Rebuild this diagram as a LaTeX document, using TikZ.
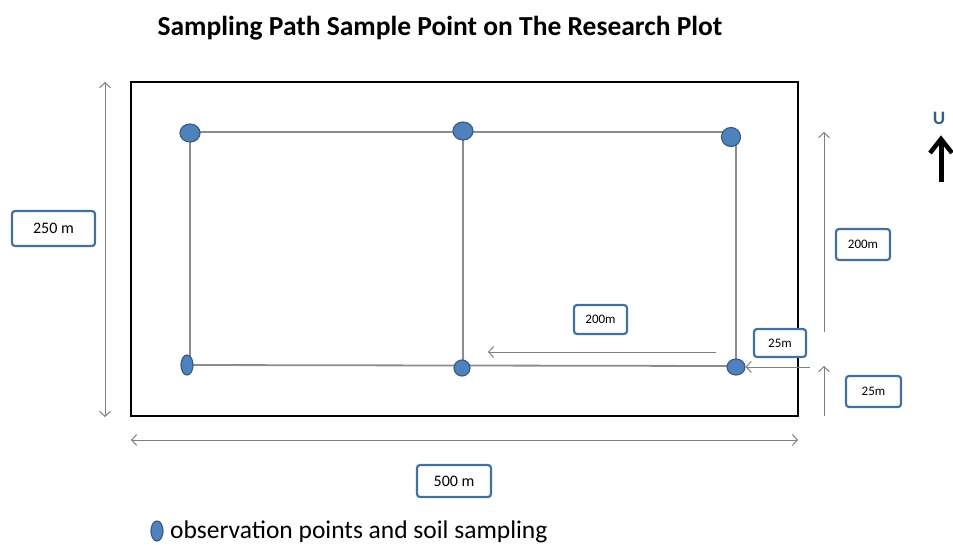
\documentclass[tikz,border=0pt]{standalone}
\usepackage{fontspec}
\setmainfont{Carlito}
\usetikzlibrary{arrows.meta,shapes.geometric}
\definecolor{ptfill}{HTML}{4F81BD}
\definecolor{ptdraw}{HTML}{385D8A}
\definecolor{boxblue}{HTML}{41719C}
\definecolor{pathgray}{HTML}{8C8C8C}
\definecolor{arrgray}{HTML}{7F7F7F}
\tikzset{
  pt/.style={ellipse, draw=ptdraw, fill=ptfill, line width=1.2pt, inner sep=0pt},
  lbl/.style={draw=boxblue, line width=2.2pt, rounded corners=3pt, fill=white, inner sep=0pt, font=\fontsize{13}{14}\selectfont},
  path/.style={draw=pathgray, line width=1.8pt},
  dim/.style={draw=arrgray, line width=1pt, arrows={Straight Barb[length=5pt,width=11pt]-Straight Barb[length=5pt,width=11pt]}},
  onearr/.style={draw=arrgray, line width=1pt, arrows={-Straight Barb[length=5pt,width=11pt]}},
}
\begin{document}
\begin{tikzpicture}[x=1pt,y=-1pt]
\useasboundingbox (0,0) rectangle (953,544);
% title
\node[font=\fontsize{27.5}{30}\selectfont\bfseries] (title) at (440,28) {Sampling Path Sample Point on The Research Plot};
% plot
\draw[black, line width=2pt] (131,82) rectangle (798,416);
% sampling path corners
\coordinate (c1) at (190,132);
\coordinate (c2) at (463,132);
\coordinate (c3) at (733,132);
\coordinate (c3b) at (736,137);
\coordinate (c4) at (190,365);
\coordinate (c5) at (463,366);
\coordinate (c6) at (736,366);
\coordinate (c4b) at (187,365);
\draw[path] (c1) -- (c2) -- (c3);
\draw[path] (c1) -- (c4);
\draw[path] (c2) -- (c5);
\draw[path] (c3b) -- (c6);
\draw[path] (c4b) -- (c6);
% sample points
\node[pt, minimum width=20pt, minimum height=18pt] (p1) at (190,133) {};
\node[pt, minimum width=20pt, minimum height=18pt] (p2) at (463,131) {};
\node[pt, minimum width=19pt, minimum height=19pt] (p3) at (731,137) {};
\node[pt, minimum width=12pt, minimum height=20pt] (p4) at (187,365) {};
\node[pt, minimum width=16pt, minimum height=16pt] (p5) at (462,368) {};
\node[pt, minimum width=18pt, minimum height=16pt] (p6) at (736,367) {};
% dimension arrows
\coordinate (la) at (105,82);
\coordinate (lb) at (105,417);
\draw[dim] (la) -- (lb);
\coordinate (ba) at (131,440);
\coordinate (bb) at (798,440);
\draw[dim] (ba) -- (bb);
\node[lbl, minimum width=83pt, minimum height=35pt, font=\fontsize{16}{17}\selectfont] (w250) at (53.5,228.5) {250 m};
\node[lbl, minimum width=74pt, minimum height=32pt, font=\fontsize{16}{17}\selectfont] (w500) at (454,481) {500 m};
% inner arrow
\coordinate (ia) at (716,352);
\coordinate (ib) at (488,352);
\draw[onearr] (ia) -- (ib);
\node[lbl, minimum width=53pt, minimum height=29pt] (d200a) at (600.5,319.5) {200m};
% right side
\node[lbl, minimum width=52pt, minimum height=28pt] (d25a) at (780,343) {25m};
\coordinate (ra) at (810,367);
\draw[onearr] (ra) -- (p6);
\coordinate (va) at (824,332);
\coordinate (vb) at (824,132);
\draw[onearr] (va) -- (vb);
\node[lbl, minimum width=54pt, minimum height=31pt] (d200b) at (863,244.5) {200m};
\coordinate (sa) at (824,416);
\coordinate (sb) at (824,366);
\draw[onearr] (sa) -- (sb);
\node[lbl, minimum width=55pt, minimum height=31pt] (d25b) at (873.5,391.5) {25m};
% north
\node[font=\fontsize{19}{20}\selectfont\bfseries, text=boxblue!85!black] (north) at (939,118) {U};
\coordinate (na) at (941,182);
\coordinate (nb) at (941,140);
\coordinate (nl) at (930,153);
\coordinate (nr) at (952,153);
\draw[black, line width=5pt] (na) -- (nb);
\draw[black, line width=4.5pt, line join=miter] (nl) -- (941,139) -- (nr);
% legend
\node[pt, minimum width=12pt, minimum height=20pt] (leg) at (157,531) {};
\node[anchor=base west, font=\fontsize{25.5}{27}\selectfont, inner sep=0pt] (legtxt) at (170,538) {observation points and soil sampling};
\end{tikzpicture}
\end{document}
